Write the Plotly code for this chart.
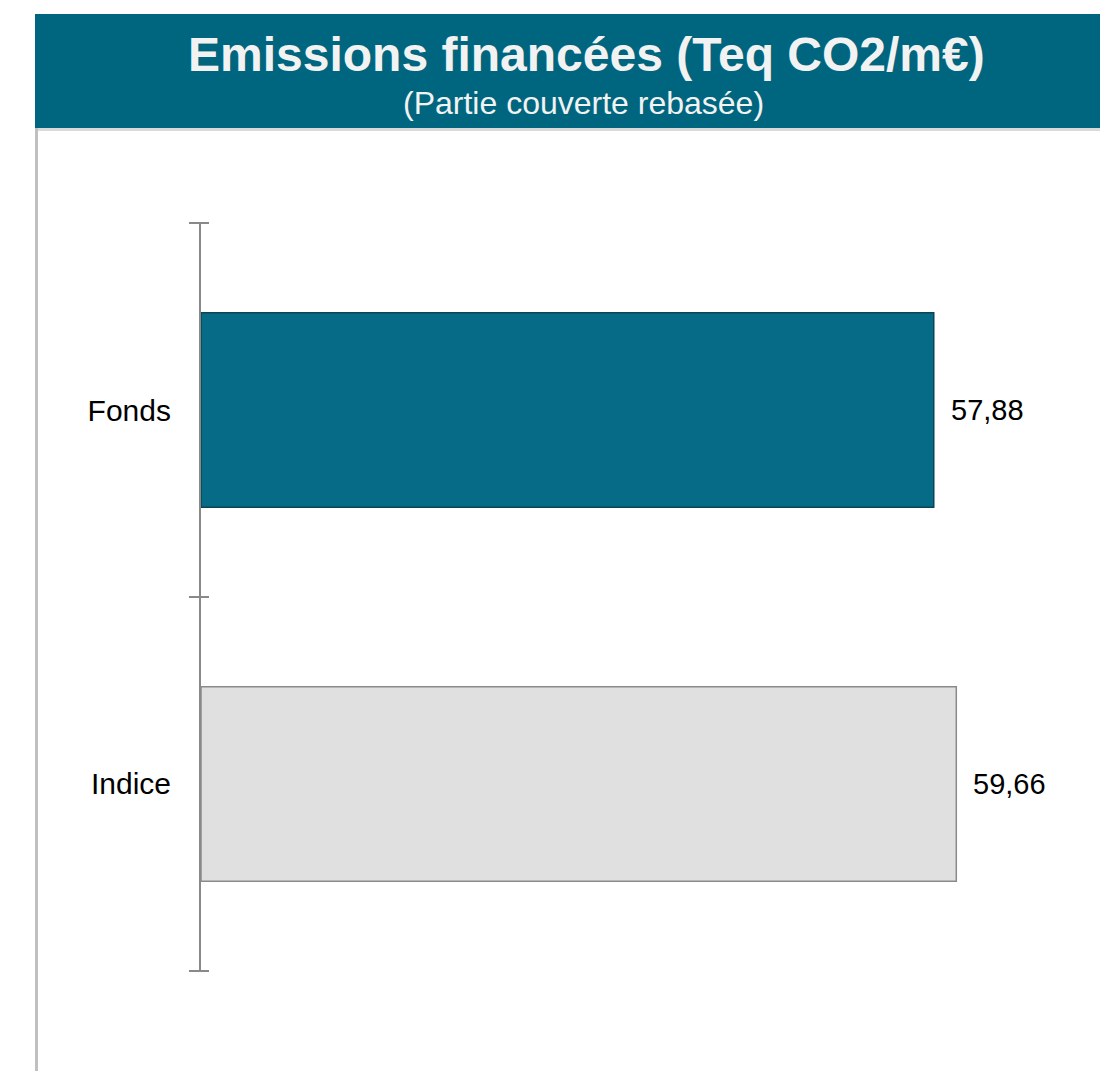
import plotly.graph_objects as go

categories = ["Fonds", "Indice"]
values = [57.88, 59.66]
bar_colors = ["#066B87", "#E0E0E0"]
line_colors = ["#0A4556", "#8A8A8A"]
boundaries = [-0.5, 0.5, 1.5]

title_text = "Emissions financées (Teq CO2/m€)"
subtitle_text = "(Partie couverte rebasée)"

W, H = 1100, 1071
L, R, T, B = 201, 0, 222, 1071 - 972
pw, ph = W - L - R, H - T - B
px_per_unit = 12.66
xmax = pw / px_per_unit
eps = 0.003

def px_x(p):
    return (p - L) / pw

def px_y(p):
    return (H - B - p) / ph

fig = go.Figure()
fig.add_trace(go.Bar(
    y=categories, x=values, orientation="h",
    marker=dict(color=bar_colors, line=dict(color=line_colors, width=1.5)),
    width=0.52, hoverinfo="skip", showlegend=False,
))
for ax in ["y2", "y3"]:
    fig.add_trace(go.Scatter(x=[0], y=[0], yaxis=ax, mode="markers",
                             marker=dict(opacity=0), showlegend=False, hoverinfo="skip"))

for c, v in zip(categories, values):
    fig.add_annotation(x=v, y=c, text=f"{v:.2f}".replace(".", ","), showarrow=False,
                       xanchor="left", xshift=15,
                       font=dict(family="Liberation Sans, Arial", size=29, color="#000000"))

shapes = [
    dict(type="rect", xref="paper", yref="paper", x0=px_x(35), x1=px_x(1110),
         y0=px_y(128), y1=px_y(14), fillcolor="#00667F", line=dict(width=0), layer="below"),
    dict(type="rect", xref="paper", yref="paper", x0=px_x(35), x1=px_x(1110),
         y0=px_y(131), y1=px_y(128), fillcolor="#D9D9D9", line=dict(width=0), layer="below"),
    dict(type="rect", xref="paper", yref="paper", x0=px_x(35), x1=px_x(38),
         y0=px_y(1080), y1=px_y(128), fillcolor="#C0C0C0", line=dict(width=0), layer="below"),
]

fig.add_annotation(xref="paper", yref="paper", x=px_x(586), y=px_y(54), text=f"<b>{title_text}</b>",
                   showarrow=False, xanchor="center", yanchor="middle",
                   font=dict(family="Liberation Sans, Arial", size=48, color="#F2F2F2"))
fig.add_annotation(xref="paper", yref="paper", x=px_x(583), y=px_y(103), text=subtitle_text,
                   showarrow=False, xanchor="center", yanchor="middle",
                   font=dict(family="Liberation Sans, Arial", size=32, color="#F2F2F2"))

tick_common = dict(overlaying="y", anchor="x", side="left", range=[1.5 + eps, -0.5 - eps],
                   tickvals=boundaries, tickwidth=2, tickcolor="#898989",
                   showticklabels=False, showgrid=False, zeroline=False, showline=False)

fig.update_layout(
    width=W, height=H,
    margin=dict(l=L, r=R, t=T, b=B, pad=0),
    paper_bgcolor="white", plot_bgcolor="white",
    shapes=shapes,
    xaxis=dict(range=[0, xmax], visible=False, fixedrange=True),
    yaxis=dict(type="category", categoryarray=categories,
               range=[1.5 + eps, -0.5 - eps], showline=True, linecolor="#898989", linewidth=2,
               ticks="", showgrid=False, ticklabelstandoff=22,
               tickfont=dict(family="Liberation Sans, Arial", size=30, color="#000000")),
    yaxis2=dict(ticks="outside", ticklen=11, **tick_common),
    yaxis3=dict(ticks="inside", ticklen=8, **tick_common),
)

fig.write_html("out.html", config={"displayModeBar": False},
               post_script="document.body.style.margin='0';document.body.style.overflow='hidden';")
